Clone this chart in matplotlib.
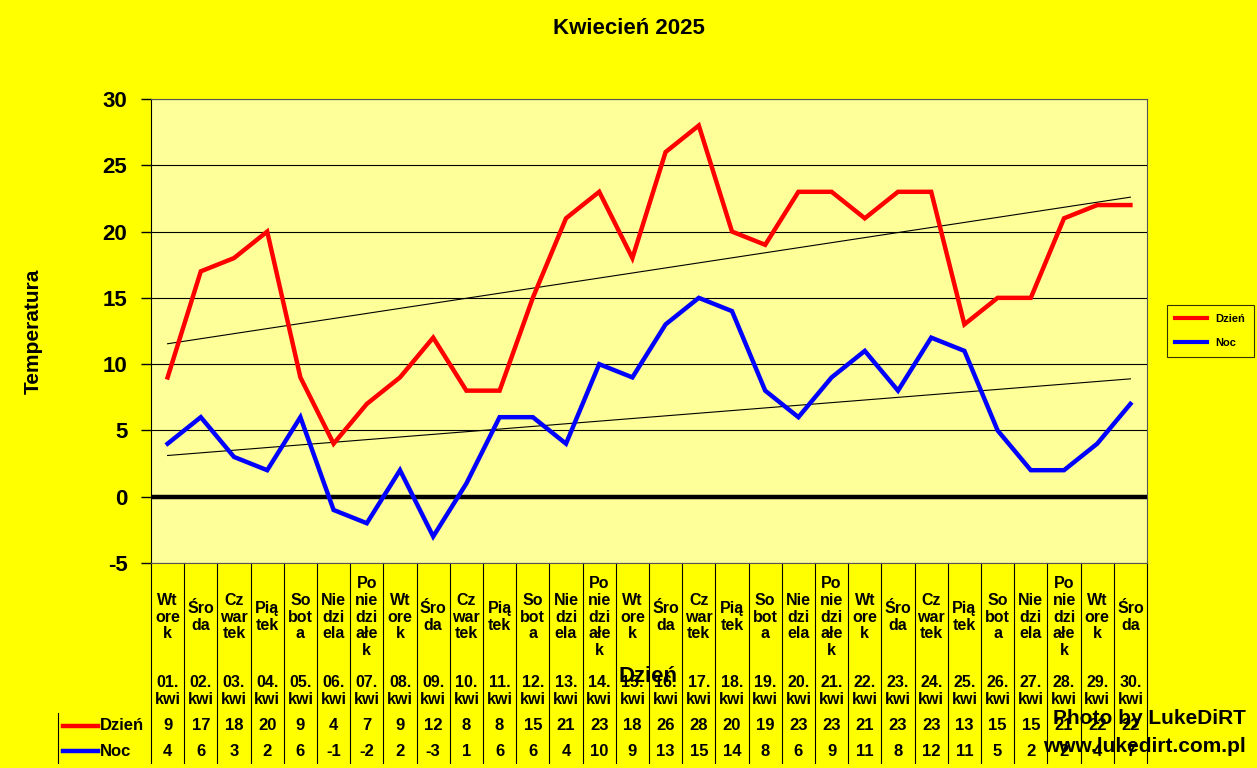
import numpy as np
import matplotlib.pyplot as plt
from matplotlib.transforms import blended_transform_factory
from matplotlib.lines import Line2D

plt.rcParams['font.family'] = ['Liberation Sans', 'DejaVu Sans']
plt.rcParams['font.weight'] = 'bold'
plt.rcParams['axes.unicode_minus'] = False

title = 'Kwiecień 2025'
day_names = ['Wtorek', 'Środa', 'Czwartek', 'Piątek', 'Sobota', 'Niedziela', 'Poniedziałek'] * 5
day_wrap = {
    'Wtorek': 'Wt\nore\nk', 'Środa': 'Śro\nda', 'Czwartek': 'Cz\nwar\ntek',
    'Piątek': 'Pią\ntek', 'Sobota': 'So\nbot\na', 'Niedziela': 'Nie\ndzi\nela',
    'Poniedziałek': 'Po\nnie\ndzi\nałe\nk',
}
dates = ['%02d.\nkwi' % d for d in range(1, 31)]
day_temp = [9, 17, 18, 20, 9, 4, 7, 9, 12, 8, 8, 15, 21, 23, 18, 26, 28, 20, 19, 23,
            23, 21, 23, 23, 13, 15, 15, 21, 22, 22]
night_temp = [4, 6, 3, 2, 6, -1, -2, 2, -3, 1, 6, 6, 4, 10, 9, 13, 15, 14, 8, 6,
              9, 11, 8, 12, 11, 5, 2, 2, 4, 7]

n = len(day_temp)
x = np.arange(n)

W, H = 1257, 768
fig = plt.figure(figsize=(W / 100, H / 100), dpi=100, facecolor='#FFFF00')
ax = fig.add_axes([151 / W, 1 - 563 / H, (1147 - 151) / W, (563 - 99) / H])
ax.set_facecolor('#FFFF99')

ax.set_xlim(-0.5, n - 0.5)
ax.set_ylim(-5, 30)
ax.set_yticks(range(-5, 31, 5))
ax.tick_params(axis='y', labelsize=16, length=7, width=1, pad=10)
ax.tick_params(axis='x', length=0, labelbottom=False)
for lab in ax.get_yticklabels():
    lab.set_fontweight('bold')
ax.grid(axis='y', color='black', lw=0.8)
ax.set_axisbelow(True)
for s in ax.spines.values():
    s.set_linewidth(0.8)
    s.set_color('#555555')
ax.spines['left'].set_color('black')

ax.axhline(0, color='black', lw=3.2, zorder=2)

# linear trend lines
for vals in (day_temp, night_temp):
    k, b = np.polyfit(x, vals, 1)
    ax.plot(x, k * x + b, color='black', lw=0.8, zorder=3)

ax.plot(x, day_temp, color='#FF0000', lw=3.2, zorder=4, solid_joinstyle='miter')
ax.plot(x, night_temp, color='#0000FF', lw=3.2, zorder=4, solid_joinstyle='miter')

fig.text(629 / W, 1 - 29 / H, title, ha='center', va='center', fontsize=16, fontweight='bold')
fig.text(33 / W, 1 - 331 / H, 'Temperatura', rotation=90, ha='center', va='center',
         fontsize=15, fontweight='bold')

# data table under the chart
tr = blended_transform_factory(ax.transData, ax.transAxes)
ph = 563 - 99
def yf(py):
    return (563 - py) / ph

for i in range(n + 1):
    ax.plot([i - 0.5, i - 0.5], [0, yf(763)], transform=tr, color='black', lw=0.8,
            clip_on=False)
for py in (713, 738):
    ax.add_line(Line2D([58 / W, 1147 / W], [1 - py / H] * 2, transform=fig.transFigure,
                       color='black', lw=0.8))
fig.add_artist(Line2D([58 / W] * 2, [1 - 713 / H, 1 - 763 / H], color='black', lw=0.8))

for i in range(n):
    ax.text(i, yf(617), day_wrap[day_names[i]], transform=tr, ha='center', va='center',
            fontsize=11.5, fontweight='bold', linespacing=1.15)
    ax.text(i, yf(691), dates[i], transform=tr, ha='center', va='center',
            fontsize=11.5, fontweight='bold', linespacing=1.1)
    ax.text(i, yf(726), str(day_temp[i]), transform=tr, ha='center', va='center',
            fontsize=12, fontweight='bold')
    ax.text(i, yf(751), str(night_temp[i]), transform=tr, ha='center', va='center',
            fontsize=12, fontweight='bold')

for py, col, name in ((726, '#FF0000', 'Dzień'), (751, '#0000FF', 'Noc')):
    fig.add_artist(Line2D([63 / W, 98 / W], [1 - py / H] * 2, color=col, lw=3.2))
    fig.text(100 / W, 1 - py / H, name, ha='left', va='center', fontsize=12,
             fontweight='bold')

fig.text(648 / W, 1 - 676 / H, 'Dzień', ha='center', va='center', fontsize=16,
         fontweight='bold')

# legend at right
leg = ax.legend([Line2D([], [], color='#FF0000', lw=3), Line2D([], [], color='#0000FF', lw=3)],
                ['Dzień', 'Noc'], loc='center left', bbox_to_anchor=(1161 / W, 1 - 331 / H),
                bbox_transform=fig.transFigure, frameon=True, fancybox=False,
                facecolor='#FFFF00', edgecolor='black', handlelength=2.8,
                labelspacing=1.2, borderpad=0.8, prop={'weight': 'bold', 'size': 8})
leg.get_frame().set_linewidth(0.8)

fig.text(1246 / W, 1 - 719 / H, 'Photo by LukeDiRT', ha='right', va='center',
         fontsize=15, fontweight='bold', zorder=10)
fig.text(1246 / W, 1 - 746 / H, 'www.lukedirt.com.pl', ha='right', va='center',
         fontsize=15, fontweight='bold', zorder=10)

fig.savefig('out.png', dpi=100, facecolor=fig.get_facecolor())
